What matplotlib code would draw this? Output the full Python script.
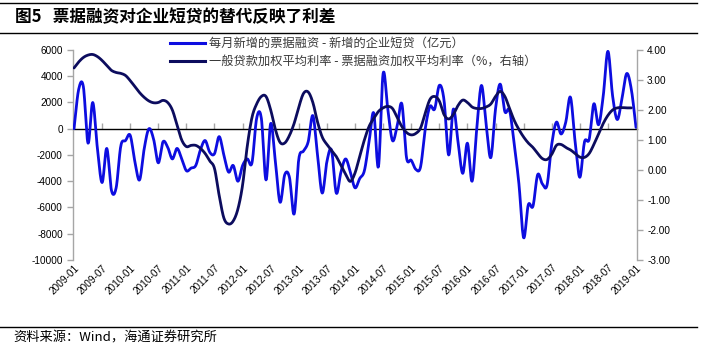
import numpy as np
import pandas as pd
import matplotlib
matplotlib.use("Agg")
import matplotlib.pyplot as plt
from matplotlib.lines import Line2D

plt.rcParams.update({
    "font.family": ["Liberation Sans", "Noto Sans CJK SC", "DejaVu Sans"],
    "font.size": 7,
    "axes.linewidth": 1.0,
})
CJK = ["Noto Sans CJK SC", "DejaVu Sans"]

# ---- data ----
months = pd.date_range("2009-01", periods=121, freq="MS")

# 每月新增的票据融资 - 新增的企业短贷 (亿元), left axis
bill_minus_loan = [
    0, 3000, 3200, -1100, 2000, -1500, -4100, -1500, -4700, -4500,
    -1300, -900, -500, -2500, -3900, -1500, 0, -800, -2600, -1000,
    -1400, -2300, -1500, -2300, -3200, -3000, -2800, -1600, -900, -1800,
    -1900, -600, -2000, -3300, -2800, -4000, -2800, -2300, -2600, 800,
    800, -3900, 400, -2500, -5600, -3500, -3700, -6500, -2300, -1700,
    -1000, 1000, -2000, -4900, -2500, -1650, -4900, -3300, -2300, -3300,
    -4500, -3800, -3200, -1000, 1200, -2900, 4200, 1500, -900, 200,
    1900, -2200, -2400, -3100, -2900, 0, 1700, 1500, 3300, 2200,
    -2000, 1500, -1000, -3400, -1100, -4000, 0, 3300, 300, -2200,
    1500, 3400, 1300, 1400, -1200, -4200, -8300, -5800, -5900, -3500,
    -4200, -4300, -1200, 500, -400, 500, 2400, -1000, -3700, -1000,
    -800, 1900, 300, 2500, 5900, 2500, 700, 2300, 4200, 3000,
    100,
]

# 一般贷款加权平均利率 - 票据融资加权平均利率 (%), right axis
rate_spread = [
    3.40, 3.60, 3.75, 3.83, 3.85, 3.78, 3.65, 3.48, 3.32, 3.25,
    3.22, 3.15, 2.98, 2.78, 2.58, 2.42, 2.30, 2.24, 2.25, 2.32,
    2.25, 2.00, 1.50, 1.00, 0.78, 0.82, 0.82, 0.72, 0.55, 0.30,
    0.05, -0.85, -1.60, -1.80, -1.70, -1.30, -0.50, 0.80, 1.75, 2.20,
    2.45, 2.45, 2.00, 1.35, 0.92, 0.90, 1.15, 1.55, 2.10, 2.55,
    2.60, 2.25, 1.60, 1.10, 0.85, 0.65, 0.45, 0.15, -0.15, -0.38,
    -0.10, 0.45, 1.00, 1.45, 1.72, 1.95, 2.07, 2.12, 2.05, 1.75,
    1.45, 1.25, 1.17, 1.22, 1.40, 1.90, 2.35, 2.45, 2.30, 1.85,
    1.70, 1.85, 2.15, 2.33, 2.25, 2.10, 2.05, 2.05, 2.10, 2.20,
    2.45, 2.62, 2.45, 2.05, 1.65, 1.35, 1.10, 0.90, 0.75, 0.55,
    0.38, 0.35, 0.52, 0.82, 0.85, 0.75, 0.67, 0.55, 0.43, 0.42,
    0.55, 0.85, 1.20, 1.55, 1.82, 2.00, 2.07, 2.08, 2.07, 2.07,
]

tick_labels = [
    "2009-01", "2009-07", "2010-01", "2010-07", "2011-01", "2011-07",
    "2012-01", "2012-07", "2013-01", "2013-07", "2014-01", "2014-07",
    "2015-01", "2015-07", "2016-01", "2016-07", "2017-01", "2017-07",
    "2018-01", "2018-07", "2019-01",
]
left_ticks = [6000, 4000, 2000, 0, -2000, -4000, -6000, -8000, -10000]
right_ticks = [4, 3, 2, 1, 0, -1, -2, -3]

LABEL_BLUE = "每月新增的票据融资 - 新增的企业短贷（亿元）"
LABEL_NAVY = "一般贷款加权平均利率 - 票据融资加权平均利率（%，右轴）"
TITLE = "图5   票据融资对企业短贷的替代反映了利差"
SOURCE = "资料来源：Wind，海通证券研究所"

BLUE = "#0d0de0"
NAVY = "#0c0c5e"
AXIS_GRAY = "#a6a6a6"


def smooth(x, y, n=12):
    """Catmull-Rom curve through the points, like Excel's smoothed line."""
    x = np.asarray(x, float)
    y = np.asarray(y, float)
    px = np.concatenate([[2 * x[0] - x[1]], x, [2 * x[-1] - x[-2]]])
    py = np.concatenate([[2 * y[0] - y[1]], y, [2 * y[-1] - y[-2]]])
    t = np.linspace(0, 1, n, endpoint=False)[:, None]
    out_x, out_y = [], []
    for i in range(1, len(px) - 2):
        for arr, out in ((px, out_x), (py, out_y)):
            p0, p1, p2, p3 = arr[i - 1], arr[i], arr[i + 1], arr[i + 2]
            seg = 0.5 * (2 * p1 + (-p0 + p2) * t + (2 * p0 - 5 * p1 + 4 * p2 - p3) * t ** 2
                         + (-p0 + 3 * p1 - 3 * p2 + p3) * t ** 3)
            out.extend(seg.ravel())
    out_x.append(x[-1])
    out_y.append(y[-1])
    return np.array(out_x), np.array(out_y)


fig = plt.figure(figsize=(7.02, 3.51), dpi=100)
ax = fig.add_axes([0.1034, 0.2593, 0.8046, 0.5983])
ax2 = ax.twinx()

xi = np.arange(len(months))
bx, by = smooth(xi, bill_minus_loan)
ax.plot(bx, by, color=BLUE, lw=2.0, solid_capstyle="round", zorder=3)
nx, ny = smooth(xi[:len(rate_spread)], rate_spread)
ax2.plot(nx, ny, color=NAVY, lw=2.0, solid_capstyle="round", zorder=3)

ax.set_xlim(-0.3, 120.3)
ax.set_ylim(-10000, 6000)
ax2.set_ylim(-3, 4)

ax.set_yticks(left_ticks)
ax.set_yticklabels([str(v) for v in left_ticks])
ax2.set_yticks(right_ticks)
ax2.set_yticklabels([f"{v:.2f}" for v in right_ticks])

for a in (ax, ax2):
    for s in ("top", "bottom"):
        a.spines[s].set_visible(False)
    a.spines["left"].set_visible(a is ax)
    a.spines["right"].set_visible(a is ax2)
ax.spines["left"].set_color(AXIS_GRAY)
ax2.spines["right"].set_color(AXIS_GRAY)
ax.tick_params(axis="y", length=4, width=1.0, color=AXIS_GRAY, pad=3, labelsize=7.2)
ax2.tick_params(axis="y", length=4, width=1.0, color=AXIS_GRAY, pad=3, labelsize=7.2)

# category labels at the bottom, rotated
ax.set_xticks(np.arange(0, 121, 6))
ax.set_xticklabels(tick_labels, rotation=45, ha="right", va="top",
                   rotation_mode="anchor", fontsize=7.2)
ax.tick_params(axis="x", length=0, pad=2)

# horizontal category axis sits at left value 0
zero_pos = (0 - (-10000)) / 16000
cat = ax.secondary_xaxis(zero_pos)
cat.set_xticks(np.arange(0, 121, 6))
cat.set_xticklabels([])
cat.spines["bottom"].set_color(AXIS_GRAY)
cat.spines["bottom"].set_linewidth(1.0)
cat.tick_params(axis="x", length=4, width=1.0, color=AXIS_GRAY, direction="out")

# legend
handles = [Line2D([], [], color=BLUE, lw=2.2), Line2D([], [], color=NAVY, lw=2.2)]
leg = fig.legend(handles, [LABEL_BLUE, LABEL_NAVY], loc="upper left",
                 bbox_to_anchor=(170 / 702, 1 - 37 / 351), frameon=False,
                 borderpad=0, borderaxespad=0, handlelength=2.9, handletextpad=0.3,
                 labelspacing=0.45, prop={"family": CJK, "size": 8.8})
for t in leg.get_texts():
    t.set_color("#3a3a3a")

# title, rules, source
fig.text(15 / 702, 1 - 17 / 351, TITLE, fontsize=12, fontweight="bold",
         family=CJK, va="center", ha="left")
for yy in (2.7, 33.0, 326.7):
    fig.add_artist(Line2D([0, 697 / 702], [1 - yy / 351, 1 - yy / 351],
                          transform=fig.transFigure, color="black", lw=1.0))
fig.text(13 / 702, 1 - 338 / 351, SOURCE, fontsize=9.5, family=CJK,
         va="center", ha="left")

fig.savefig("out.png", dpi=100)
